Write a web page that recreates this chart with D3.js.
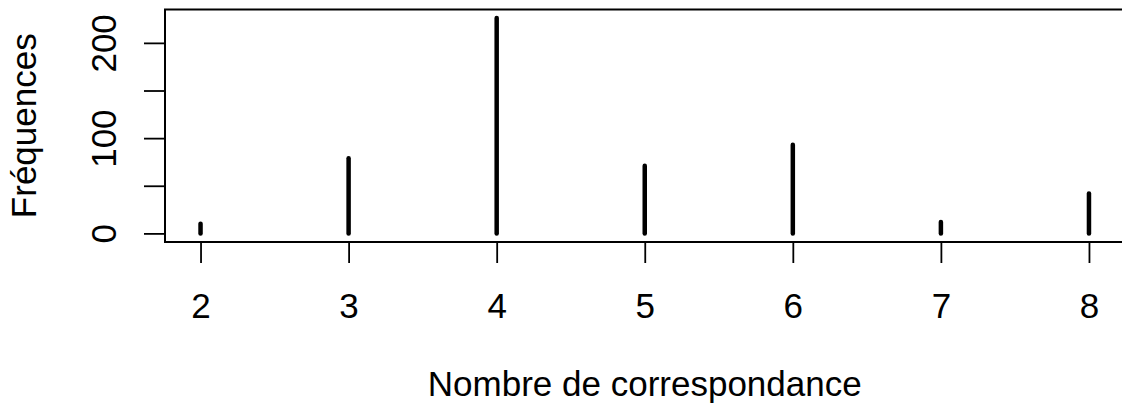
<!DOCTYPE html>
<html>
<head>
<meta charset="utf-8">
<script src="https://cdn.jsdelivr.net/npm/d3@7"></script>
<style>
  html, body { margin: 0; padding: 0; background: #fff; }
  svg { display: block; }
  text { font-family: "Liberation Sans", Arial, sans-serif; fill: #000; }
</style>
</head>
<body>
<svg id="chart" width="1122" height="405"></svg>
<script>
// Frequency table: number of matches and how often each occurred
const categories = [2, 3, 4, 5, 6, 7, 8];
const frequencies = [10, 79, 226, 71, 93, 12, 42];
const yTicks = [0, 50, 100, 150, 200];
const yTickLabels = ["0", "", "100", "", "200"];
const xTitle = "Nombre de correspondance";
const yTitle = "Fréquences";

const FONT = 35;
const svg = d3.select("#chart");

// Plot region with base-graphics style 4% padding on each axis
const box = { left: 165, right: 1124.5, top: 9.5, bottom: 242 };
const xPad = (d3.max(categories) - d3.min(categories)) * 0.04;
const yPad = d3.max(frequencies) * 0.04;

const x = d3.scaleLinear()
  .domain([d3.min(categories) - xPad, d3.max(categories) + xPad])
  .range([box.left, box.right]);
const y = d3.scaleLinear()
  .domain([-yPad, d3.max(frequencies) + yPad])
  .range([box.bottom, box.top]);

// Frame
svg.append("rect")
  .attr("x", box.left).attr("y", box.top)
  .attr("width", box.right - box.left).attr("height", box.bottom - box.top)
  .attr("fill", "none").attr("stroke", "#000").attr("stroke-width", 2);

// Vertical frequency lines
svg.append("g").selectAll("line")
  .data(categories.map((c, i) => ({ c, v: frequencies[i] })))
  .join("line")
  .attr("x1", d => x(d.c)).attr("x2", d => x(d.c))
  .attr("y1", y(0)).attr("y2", d => y(d.v))
  .attr("stroke", "#000").attr("stroke-width", 4.5)
  .attr("stroke-linecap", "round");

// Bottom axis
const xAxis = d3.axisBottom(x).tickValues(categories).tickSize(21)
  .tickFormat(d3.format("d"));
const gx = svg.append("g").attr("transform", `translate(0,${box.bottom})`).call(xAxis);
gx.select(".domain").remove();
gx.selectAll(".tick line").attr("stroke", "#000").attr("stroke-width", 1.8);
gx.selectAll(".tick text")
  .attr("font-size", FONT)
  .attr("font-family", "Liberation Sans, Arial, sans-serif")
  .attr("dy", null).attr("y", 76);

// Left axis with rotated labels
const yAxis = d3.axisLeft(y).tickValues(yTicks).tickSize(21)
  .tickFormat((d, i) => yTickLabels[i]);
const gy = svg.append("g").attr("transform", `translate(${box.left},0)`).call(yAxis);
gy.select(".domain").remove();
gy.selectAll(".tick line").attr("stroke", "#000").attr("stroke-width", 1.8);
gy.selectAll(".tick text")
  .attr("font-size", FONT)
  .attr("font-family", "Liberation Sans, Arial, sans-serif")
  .attr("x", null).attr("dy", null)
  .attr("text-anchor", "middle")
  .attr("transform", "translate(-49,0) rotate(-90)");

// Axis titles
svg.append("text")
  .attr("x", (box.left + box.right) / 2).attr("y", 396)
  .attr("text-anchor", "middle").attr("font-size", FONT)
  .text(xTitle);

svg.append("text")
  .attr("transform", `translate(36,${(box.top + box.bottom) / 2}) rotate(-90)`)
  .attr("text-anchor", "middle").attr("font-size", FONT)
  .text(yTitle);
</script>
</body>
</html>
